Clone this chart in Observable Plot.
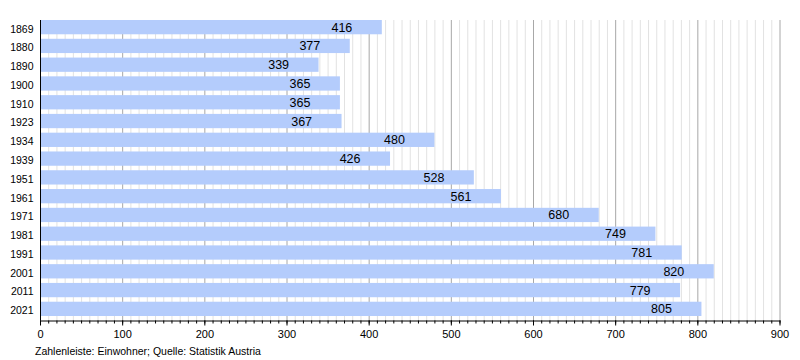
<!DOCTYPE html>
<html><head><meta charset="utf-8">
<script src="https://cdn.jsdelivr.net/npm/d3@7"></script>
<script src="https://cdn.jsdelivr.net/npm/@observablehq/plot@0.6"></script>
<style>
body{margin:0;background:#fff;font-family:"Liberation Sans",Arial,sans-serif;}
#cap{font-size:10.5px;color:#000;margin-left:35px;line-height:14px;}
</style></head><body>
<div id="chart"></div>
<div id="cap">Zahlenleiste: Einwohner; Quelle: Statistik Austria</div>
<script>
const years = ["1869","1880","1890","1900","1910","1923","1934","1939","1951","1961","1971","1981","1991","2001","2011","2021"];
const population = [416,377,339,365,365,367,480,426,528,561,680,749,781,820,779,805];
const majorTicks = [0,100,200,300,400,500,600,700,800,900];
const data = years.map((y,i)=>({year:y, value:population[i]}));
const minor = d3.range(0,901,10);
const minorGrid = minor.filter(v=>v%100!==0);
const majorGrid = majorTicks.filter(v=>v>0);

const chart = Plot.plot({
  width:800, height:344,
  marginTop:20, marginBottom:23.5, marginLeft:40, marginRight:20.5,
  style:{fontFamily:"Liberation Sans, Arial, sans-serif", background:"#fff"},
  x:{domain:[0,900], label:null},
  y:{domain:years, paddingInner:0.24, paddingOuter:0.12, align:0, round:false, label:null},
  marks:[
    Plot.ruleX(minorGrid,{stroke:"#e2e2e2", strokeWidth:1}),
    Plot.ruleX(majorGrid,{stroke:"#a8a8a8", strokeWidth:1}),
    Plot.barX(data,{x:"value", y:"year", fill:"#b4ccfc"}),
    Plot.text(data,{x:"value", y:"year", text:d=>String(d.value), textAnchor:"end", dx:-30, fontSize:12.5, fill:"#000"}),
    Plot.ruleX([0],{stroke:"#000"}),
    Plot.frame({anchor:"bottom", stroke:"#000"}),
    Plot.axisY({tickSize:0, tickPadding:7, fontSize:10.5, dy:1.5, label:null}),
    Plot.axisX({ticks:minor, tickSize:3, tickFormat:()=>"", label:null}),
    Plot.axisX({ticks:majorTicks, tickSize:5, tickPadding:4, fontSize:11, label:null})
  ]
});
document.getElementById("chart").appendChild(chart);
</script></body></html>
